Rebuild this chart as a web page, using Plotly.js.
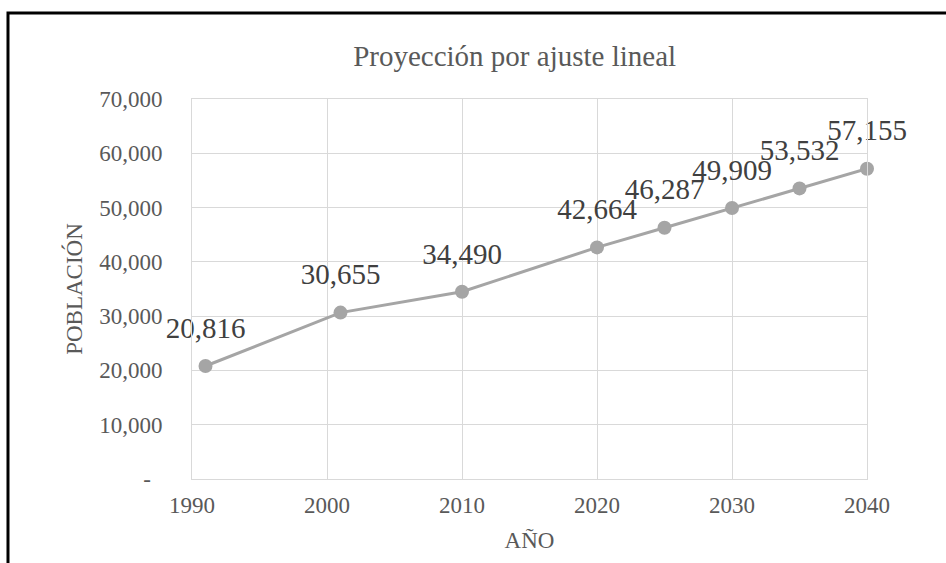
<!DOCTYPE html>
<html>
<head>
<meta charset="utf-8">
<script src="https://cdn.plot.ly/plotly-3.0.1.min.js"></script>
<style>
html, body { margin: 0; padding: 0; background: #ffffff; }
#chart { width: 946px; height: 563px; }
</style>
</head>
<body>
<div id="chart"></div>
<script>
const years = [1991, 2001, 2010, 2020, 2025, 2030, 2035, 2040];
const population = [20816, 30655, 34490, 42664, 46287, 49909, 53532, 57155];
const yTickVals = [0, 10000, 20000, 30000, 40000, 50000, 60000, 70000];
const yTickText = ["-\u00a0\u00a0", "10,000", "20,000", "30,000", "40,000", "50,000", "60,000", "70,000"];
const xTickVals = [1990, 2000, 2010, 2020, 2030, 2040];

const serif = "'Liberation Serif', 'Times New Roman', serif";
const labels = population.map(v => v.toLocaleString('en-US'));

const lineTrace = {
  x: years,
  y: population,
  type: 'scatter',
  mode: 'lines+markers',
  line: { color: '#A5A5A5', width: 3 },
  marker: { color: '#A5A5A5', size: 14 },
  cliponaxis: false,
  hoverinfo: 'x+y'
};

const labelTrace = {
  x: years,
  y: population,
  type: 'scatter',
  mode: 'markers+text',
  marker: { color: 'rgba(0,0,0,0)', size: 32 },
  text: labels,
  textposition: 'top center',
  textfont: { family: serif, size: 29, color: '#404040' },
  cliponaxis: false,
  hoverinfo: 'skip'
};

const layout = {
  width: 946,
  height: 563,
  margin: { l: 192, r: 79, t: 99, b: 84 },
  paper_bgcolor: '#ffffff',
  plot_bgcolor: '#ffffff',
  showlegend: false,
  font: { family: serif, color: '#595959' },
  title: {
    text: 'Proyección por ajuste lineal',
    font: { family: serif, size: 29, color: '#595959' },
    xref: 'container', x: 0.544, xanchor: 'center',
    yref: 'container', y: 0.9, yanchor: 'middle'
  },
  xaxis: {
    range: [1990, 2040],
    tickvals: xTickVals,
    ticktext: xTickVals.map(String),
    showgrid: true,
    gridcolor: '#D9D9D9',
    gridwidth: 1,
    showline: true,
    linecolor: '#D9D9D9',
    linewidth: 1,
    mirror: true,
    zeroline: false,
    ticks: 'outside',
    ticklen: 5,
    tickcolor: 'rgba(0,0,0,0)',
    tickfont: { family: serif, size: 23, color: '#595959' },
    title: { text: 'AÑO', font: { family: serif, size: 23, color: '#595959' }, standoff: 15 }
  },
  yaxis: {
    range: [0, 70000],
    tickvals: yTickVals,
    ticktext: yTickText,
    showgrid: true,
    gridcolor: '#D9D9D9',
    gridwidth: 1,
    showline: true,
    linecolor: '#D9D9D9',
    linewidth: 1,
    mirror: true,
    zeroline: false,
    ticks: 'outside',
    ticklen: 24,
    tickcolor: 'rgba(0,0,0,0)',
    tickfont: { family: serif, size: 23, color: '#595959' },
    title: { text: 'POBLACIÓN', font: { family: serif, size: 23, color: '#595959' }, standoff: 10 }
  },
  shapes: [{
    type: 'rect', xref: 'paper', yref: 'paper',
    x0: -0.2726, x1: 2, y0: -1, y1: 1.2263,
    line: { color: '#000000', width: 3 },
    fillcolor: 'rgba(0,0,0,0)',
    layer: 'below'
  }]
};

Plotly.newPlot('chart', [lineTrace, labelTrace], layout, { displayModeBar: false, staticPlot: true });
</script>
</body>
</html>
